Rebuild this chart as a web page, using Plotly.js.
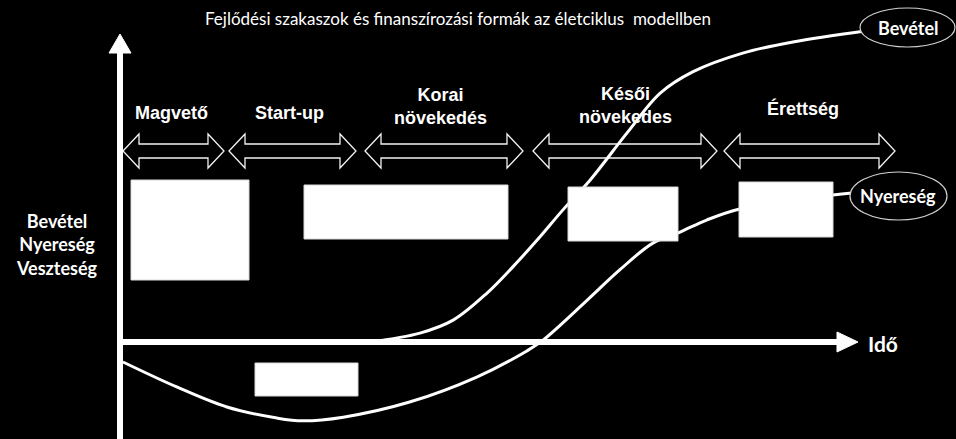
<!DOCTYPE html>
<html>
<head>
<meta charset="utf-8">
<script src="https://cdn.plot.ly/plotly-3.0.1.min.js"></script>
<style>
  html, body { margin: 0; padding: 0; background: #000; }
  #chart { width: 956px; height: 439px; }
</style>
</head>
<body>
<div id="chart"></div>
<script>
// ---- data (time units on x, value units on y; origin = axis crossing) ----
const chartTitle = 'Fejlődési szakaszok és finanszírozási formák az életciklus  modellben';
const stageNames = ['Magvető', 'Start-up', 'Korai<br>növekedés', 'Késői<br>növekedes', 'Érettség'];
const revenueName = 'Bevétel';
const profitName = 'Nyereség';
const yAxisLabel = 'Bevétel<br>Nyereség<br>Veszteség';
const xAxisLabel = 'Idő';

const revenueT = [33.9, 40.7, 45.2, 49.8, 53.3, 56.6, 60.1, 63.8, 68.8, 73.3, 77.7, 84.5, 91.3, 101.1];
const revenueV = [0, 2.9, 7.1, 15.9, 24.4, 33.1, 42.9, 52.6, 67.9, 80.8, 87.7, 93.8, 97.4, 101.0];

const profitT = [0.4, 7.7, 14.5, 21.3, 24.8, 30.3, 39.3, 48.4, 55.2, 57.4, 63.4, 67.8, 72.3, 76.0, 79.6, 84.1, 96.7, 99.3];
const profitV = [-6.5, -14.6, -21.1, -24.7, -25.6, -24.4, -19.5, -11.4, -2.9, 0.6, 13.6, 23.4, 32.1, 35.7, 39.6, 43.2, 47.7, 48.4];

// ---- layout geometry (figure pixels) ----
const W = 956, H = 439;
const ORIGIN_X = 120, ORIGIN_Y = 342;
const PX_PER_T = 7.37, PX_PER_V = 3.08;
const px = x => x / W;
const py = y => 1 - y / H;
const pth = pts => 'M ' + pts.map(p => px(p[0]).toFixed(5) + ',' + py(p[1]).toFixed(5)).join(' L ') + ' Z';

const stageSpans = [[123, 224], [229, 356], [365, 523], [533, 717], [724, 895]];
const stageLabelPos = [[171, 113], [289, 113], [440, 107], [625, 106], [803, 109]];
const boxes = [[131, 180, 249, 280], [304, 185, 508, 239], [568, 187, 678, 241], [739, 182, 833, 237], [255, 363, 358, 396]];

const shapes = [];
// axes
shapes.push({type: 'line', xref: 'paper', yref: 'paper', x0: px(ORIGIN_X), x1: px(ORIGIN_X), y0: py(H), y1: py(50),
  line: {color: '#fff', width: 6}, layer: 'below'});
shapes.push({type: 'path', xref: 'paper', yref: 'paper', path: pth([[109, 53], [120, 34], [131, 53]]),
  fillcolor: '#fff', line: {color: '#fff', width: 1}, layer: 'below'});
shapes.push({type: 'line', xref: 'paper', yref: 'paper', x0: px(ORIGIN_X), x1: px(840), y0: py(ORIGIN_Y), y1: py(ORIGIN_Y),
  line: {color: '#fff', width: 6}, layer: 'below'});
shapes.push({type: 'path', xref: 'paper', yref: 'paper', path: pth([[837, 332], [858, 342], [837, 352]]),
  fillcolor: '#fff', line: {color: '#fff', width: 1}, layer: 'below'});

// stage double arrows
const cy = 151, hh = 17, sh = 7, hl = 16;
stageSpans.forEach(s => {
  const a = s[0], b = s[1];
  shapes.push({type: 'path', xref: 'paper', yref: 'paper',
    path: pth([[a, cy], [a + hl, cy - hh], [a + hl, cy - sh], [b - hl, cy - sh], [b - hl, cy - hh], [b, cy],
               [b - hl, cy + hh], [b - hl, cy + sh], [a + hl, cy + sh], [a + hl, cy + hh]]),
    fillcolor: '#000', line: {color: '#f2f2f2', width: 1.3}, layer: 'below'});
});

// white boxes
boxes.forEach(b => {
  shapes.push({type: 'rect', xref: 'paper', yref: 'paper', x0: px(b[0]), x1: px(b[2]), y0: py(b[3]), y1: py(b[1]),
    fillcolor: '#fff', line: {color: '#d9d9d9', width: 1}, layer: 'above'});
});

// ellipses
shapes.push({type: 'circle', xref: 'paper', yref: 'paper', x0: px(860), x1: px(955), y0: py(47), y1: py(8),
  fillcolor: '#000', line: {color: '#d0d0d0', width: 1.2}, layer: 'above'});
shapes.push({type: 'circle', xref: 'paper', yref: 'paper', x0: px(850), x1: px(947), y0: py(220), y1: py(172),
  fillcolor: '#000', line: {color: '#d0d0d0', width: 1.2}, layer: 'above'});

const annotations = [];
stageNames.forEach((n, i) => {
  annotations.push({xref: 'paper', yref: 'paper', x: px(stageLabelPos[i][0]), y: py(stageLabelPos[i][1]),
    xanchor: 'center', yanchor: 'middle', showarrow: false, text: n, align: 'center',
    font: {family: 'Liberation Sans, Arial, sans-serif', size: 18, color: '#fff', weight: 'bold'}});
});
annotations.push({xref: 'paper', yref: 'paper', x: px(57), y: py(244), xanchor: 'center', yanchor: 'middle',
  showarrow: false, text: yAxisLabel, align: 'center',
  font: {family: 'Lato, sans-serif', size: 18, color: '#fff', weight: 'bold'}});
annotations.push({xref: 'paper', yref: 'paper', x: px(866), y: py(343), xanchor: 'left', yanchor: 'middle',
  showarrow: false, text: xAxisLabel,
  font: {family: 'Lato, sans-serif', size: 21, color: '#fff', weight: 'bold'}});
annotations.push({xref: 'paper', yref: 'paper', x: px(908), y: py(28), xanchor: 'center', yanchor: 'middle',
  showarrow: false, text: revenueName,
  font: {family: 'Lato, sans-serif', size: 18, color: '#fff', weight: 'bold'}});
annotations.push({xref: 'paper', yref: 'paper', x: px(898), y: py(196), xanchor: 'center', yanchor: 'middle',
  showarrow: false, text: profitName,
  font: {family: 'Lato, sans-serif', size: 18, color: '#fff', weight: 'bold'}});

const traces = [
  {x: revenueT, y: revenueV, name: revenueName, type: 'scatter', mode: 'lines',
   line: {color: '#fff', width: 3, shape: 'spline', smoothing: 1}, hoverinfo: 'skip'},
  {x: profitT, y: profitV, name: profitName, type: 'scatter', mode: 'lines',
   line: {color: '#fff', width: 3, shape: 'spline', smoothing: 1}, hoverinfo: 'skip'}
];

const layout = {
  width: W, height: H,
  margin: {l: 0, r: 0, t: 0, b: 0, pad: 0},
  paper_bgcolor: '#000', plot_bgcolor: '#000',
  showlegend: false,
  title: {text: chartTitle, x: px(458), xanchor: 'center', y: py(19), yanchor: 'middle', xref: 'paper', yref: 'paper',
    font: {family: 'Lato, sans-serif', size: 17, color: '#fff'}},
  xaxis: {visible: false, range: [(0 - ORIGIN_X) / PX_PER_T, (W - ORIGIN_X) / PX_PER_T], fixedrange: true},
  yaxis: {visible: false, range: [(ORIGIN_Y - H) / PX_PER_V, ORIGIN_Y / PX_PER_V], fixedrange: true},
  shapes: shapes,
  annotations: annotations
};

Plotly.newPlot('chart', traces, layout, {displayModeBar: false, staticPlot: true});
</script>
</body>
</html>
